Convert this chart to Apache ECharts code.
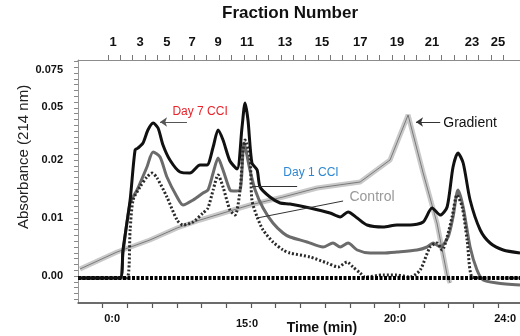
<!DOCTYPE html>
<html lang="en">
<head>
<meta charset="UTF-8">
<title>Fraction chromatogram</title>
<style>
  html, body { margin: 0; padding: 0; background: #fff; }
  #chart { width: 520px; height: 336px; }
</style>
</head>
<body>
<div id="chart"></div>
<script src="https://cdn.jsdelivr.net/npm/echarts@6/dist/echarts.min.js"></script>
<script>
// x = run position (one bottom tick per unit), y = absorbance level on the figure's uneven scale
var timeLabels = ['0:0', '15:0', '20:0', '24:0'];
var timeLabelPos = [1.38, 6.84, 12.83, 17.29];
var fractionLabels = ['1', '3', '5', '7', '9', '11', '13', '15', '17', '19', '21', '23', '25'];
var fractionPos = [1.42, 2.51, 3.60, 4.62, 5.67, 6.84, 8.38, 9.88, 11.42, 12.91, 14.33, 15.95, 17.00];
var absLabels = ['0.00', '0.01', '0.02', '0.05', '0.075'];
var absPos = [27, 85, 143, 196, 233];

var day7 = [[0, 25], [1.70, 25], [1.82, 53], [2.11, 103], [2.31, 153], [2.43, 155], [2.63, 160], [2.83, 173],
  [3.04, 180], [3.24, 175], [3.44, 158], [3.72, 143], [4.13, 131], [4.53, 130], [4.94, 138], [5.22, 138],
  [5.47, 156], [5.67, 173], [5.87, 163], [6.15, 142], [6.44, 134], [6.64, 176], [6.76, 200], [6.88, 183],
  [7.04, 140], [7.25, 133], [7.37, 116], [7.77, 106], [8.18, 100], [8.58, 99], [9.39, 95], [10.20, 90],
  [10.61, 86], [10.93, 91], [11.30, 85], [11.70, 78], [12.35, 76], [12.91, 78], [13.44, 78], [13.97, 81],
  [14.33, 95], [14.66, 88], [14.94, 96], [15.18, 136], [15.38, 150], [15.59, 140], [15.87, 103], [16.28, 73],
  [16.68, 60], [17.21, 53], [17.89, 50]];

var day1 = [[0, 25], [1.70, 25], [1.82, 50], [2.11, 100], [2.39, 113], [2.79, 136], [3.04, 151], [3.32, 146],
  [3.60, 126], [4.01, 106], [4.25, 98], [4.66, 103], [5.06, 110], [5.26, 113], [5.47, 130], [5.67, 145],
  [5.87, 133], [6.15, 113], [6.28, 112], [6.56, 113], [6.72, 160], [6.96, 133], [7.17, 113], [7.49, 95],
  [7.89, 80], [8.30, 70], [8.58, 66], [9.27, 61], [9.92, 56], [10.32, 60], [10.61, 56], [10.93, 60],
  [11.30, 53], [11.82, 50], [12.35, 50], [12.91, 51], [13.72, 53], [14.13, 56], [14.37, 60], [14.66, 56],
  [14.98, 66], [15.18, 86], [15.38, 113], [15.59, 96], [15.87, 56], [16.15, 33], [16.40, 23], [16.96, 20],
  [17.89, 18]];

var control = [[0, 25], [1.98, 25], [2.11, 73], [2.23, 103], [2.51, 116], [2.79, 126], [3.00, 130], [3.20, 125],
  [3.60, 106], [4.01, 83], [4.25, 78], [4.66, 81], [5.06, 90], [5.26, 95], [5.47, 113], [5.67, 128],
  [5.87, 116], [6.15, 93], [6.36, 88], [6.56, 113], [6.68, 153], [6.76, 163], [6.96, 146], [7.04, 103],
  [7.25, 86], [7.49, 73], [7.89, 61], [8.30, 53], [8.58, 50], [9.39, 46], [10.08, 40], [10.53, 36],
  [10.89, 41], [11.13, 36], [11.42, 30], [11.62, 26], [12.35, 28], [12.91, 28], [13.44, 26], [13.85, 33],
  [14.25, 56], [14.53, 60], [14.74, 53], [14.94, 66], [15.14, 86], [15.34, 108], [15.55, 96], [15.75, 63],
  [15.95, 26], [16.40, 25], [17.89, 25]];

var gradient = [[0.08, 34], [1.58, 51], [2.91, 63], [4.01, 75], [4.94, 83], [6.28, 93], [6.96, 98], [8.30, 106],
  [9.68, 115], [11.42, 121], [12.63, 143], [13.36, 188], [13.97, 130], [14.53, 80], [14.94, 28], [15.06, 20]];

var baseline = [[0, 25], [17.89, 25]];

var minuteTicks = [];
for (var i = 1; i <= 17; i++) minuteTicks.push(i);
var fractionTicks = [];
for (var k = 0; k <= 32; k++) fractionTicks.push(+(1.21 + 0.5 * k).toFixed(2));
var absTicks = [];
for (var m = -4; m <= 37; m++) absTicks.push(+(27 + 5.8 * m).toFixed(1));

var font = 'Liberation Sans, Arial, sans-serif';
var chart = echarts.init(document.getElementById('chart'));

function note(name, coord, color, size) {
  return {
    name: name, coord: coord,
    label: { show: true, position: 'inside', formatter: '{b}', color: color, fontSize: size, fontFamily: font }
  };
}

chart.setOption({
  animation: false,
  backgroundColor: '#fff',
  grid: { left: 78, right: 0, top: 60, bottom: 33, outerBoundsMode: 'none' },
  xAxis: [{
    type: 'value', position: 'bottom', min: 0, max: 17.89,
    axisLine: { show: true, onZero: false, lineStyle: { color: '#555', width: 1.5 } },
    axisTick: { show: true, customValues: minuteTicks, length: 5, lineStyle: { color: '#555', width: 1.2 } },
    axisLabel: {
      customValues: timeLabelPos, margin: 10,
      formatter: function (v) {
        var s = timeLabels[timeLabelPos.indexOf(v)];
        return s === '15:0' ? '{low|' + s + '}' : '{n|' + s + '}';
      },
      rich: {
        n: { fontSize: 11, fontWeight: 'bold', color: '#111', fontFamily: font },
        low: { fontSize: 11, fontWeight: 'bold', color: '#111', fontFamily: font, padding: [5, 0, 0, 0] }
      }
    },
    splitLine: { show: false },
    name: 'Time (min)', nameLocation: 'middle', nameGap: 18, nameMoveOverlap: false,
    nameTextStyle: { fontSize: 14, fontWeight: 'bold', color: '#111', fontFamily: font, padding: [0, 0, 0, 46] }
  }, {
    type: 'value', position: 'top', min: 0, max: 17.89,
    axisLine: { show: true, onZero: false, lineStyle: { color: '#8c8c8c' } },
    axisTick: { show: true, customValues: fractionTicks, length: 5, lineStyle: { color: '#777' } },
    axisLabel: {
      customValues: fractionPos, margin: 11,
      formatter: function (v) { return fractionLabels[fractionPos.indexOf(v)]; },
      fontSize: 13, fontWeight: 'bold', color: '#111', fontFamily: font
    },
    splitLine: { show: false },
    name: 'Fraction Number', nameLocation: 'middle', nameGap: 38, nameMoveOverlap: false,
    nameTextStyle: { fontSize: 17, fontWeight: 'bold', color: '#111', fontFamily: font, padding: [0, 18, 0, 0] }
  }],
  yAxis: {
    type: 'value', min: 0, max: 243,
    axisLine: { show: true, lineStyle: { color: '#999' } },
    axisTick: { show: true, customValues: absTicks, length: 4, lineStyle: { color: '#888' } },
    axisLabel: {
      customValues: absPos, margin: 15,
      formatter: function (v) { return absLabels[absPos.indexOf(v)]; },
      fontSize: 11, fontWeight: 'bold', color: '#111', fontFamily: font
    },
    splitLine: { show: false },
    name: 'Absorbance (214 nm)', nameLocation: 'middle', nameRotate: 90, nameGap: 47, nameMoveOverlap: false,
    nameTextStyle: { fontSize: 15, color: '#222', fontFamily: font, padding: [0, 0, 0, 49] }
  },
  series: [{
    name: 'Gradient band', type: 'line', data: gradient, showSymbol: false, silent: true,
    lineStyle: { color: '#c9c9c9', width: 5 }
  }, {
    name: 'Gradient', type: 'line', data: gradient, showSymbol: false, silent: true,
    lineStyle: { color: '#7a7a7a', width: 1 },
    markLine: {
      silent: true, symbol: ['none', 'arrow'], symbolSize: 7,
      lineStyle: { color: '#333', width: 1, type: 'solid' }, label: { show: false },
      data: [[{ coord: [14.66, 181] }, { coord: [13.68, 181] }]]
    },
    markPoint: { symbol: 'rect', symbolSize: 0, data: [note('Gradient', [15.87, 180], '#111', 14)] }
  }, {
    name: 'Day 1 CCI', type: 'line', data: day1, showSymbol: false, silent: true, smooth: 0.25,
    lineStyle: { color: '#6b6b6b', width: 3 },
    markLine: {
      silent: true, symbol: ['none', 'none'],
      lineStyle: { color: '#333', width: 1, type: 'solid' }, label: { show: false },
      data: [[{ coord: [8.87, 117] }, { coord: [7.04, 117] }]]
    },
    markPoint: { symbol: 'rect', symbolSize: 0, data: [note('Day 1 CCI', [9.43, 130], '#2d87d2', 12)] }
  }, {
    name: 'Control', type: 'line', data: control, showSymbol: false, silent: true, smooth: 0.25,
    lineStyle: { color: '#2a2a2a', width: 3, type: [2, 2] },
    markLine: {
      silent: true, symbol: ['none', 'none'],
      lineStyle: { color: '#333', width: 1, type: 'solid' }, label: { show: false },
      data: [[{ coord: [10.73, 102] }, { coord: [7.25, 85] }]]
    },
    markPoint: { symbol: 'rect', symbolSize: 0, data: [note('Control', [11.90, 106], '#999', 14)] }
  }, {
    name: 'Baseline', type: 'line', data: baseline, showSymbol: false, silent: true,
    lineStyle: { color: '#000', width: 4, type: [3, 1.5] },
    // frame line along the bottom of the plot, in case the axis line is too faint
    markLine: {
      silent: true, symbol: ['none', 'none'],
      lineStyle: { color: '#666', width: 1.5, type: 'solid' }, label: { show: false },
      data: [{ yAxis: 0 }]
    }
  }, {
    name: 'Day 7 CCI', type: 'line', data: day7, showSymbol: false, silent: true, smooth: 0.25,
    lineStyle: { color: '#111', width: 3 },
    markLine: {
      silent: true, symbol: ['none', 'arrow'], symbolSize: 7,
      lineStyle: { color: '#555', width: 1, type: 'solid' }, label: { show: false },
      data: [[{ coord: [4.41, 181] }, { coord: [3.32, 181] }]]
    },
    markPoint: { symbol: 'rect', symbolSize: 0, data: [note('Day 7 CCI', [4.94, 191], '#e8232a', 12)] }
  }]
});
</script>
</body>
</html>
